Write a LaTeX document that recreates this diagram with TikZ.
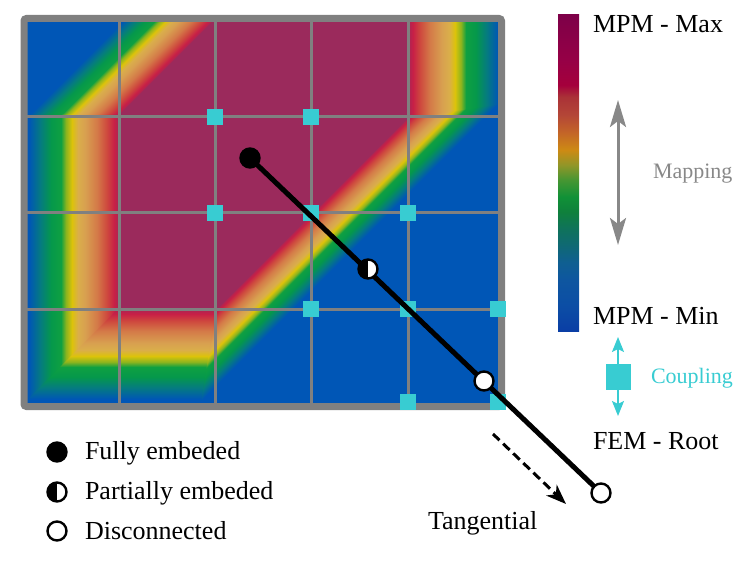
\documentclass[tikz,border=0pt]{standalone}
\usepackage{fontspec}
\setmainfont{Liberation Serif}
\usetikzlibrary{arrows.meta}

% field colour map (distance from the maroon zone, in bp)
\definecolor{cA}{RGB}{155,42,92}
\definecolor{cB}{RGB}{178,36,80}
\definecolor{cC}{RGB}{200,32,70}
\definecolor{cD}{RGB}{206,72,62}
\definecolor{cE}{RGB}{212,122,72}
\definecolor{cF}{RGB}{216,160,80}
\definecolor{cG}{RGB}{218,174,74}
\definecolor{cH}{RGB}{220,195,10}
\definecolor{cI}{RGB}{140,180,30}
\definecolor{cJ}{RGB}{15,160,65}
\definecolor{cK}{RGB}{5,152,75}
\definecolor{cL}{RGB}{5,125,125}
\definecolor{cM}{RGB}{0,86,182}
\pgfdeclarehorizontalshading{fieldmap}{800bp}{color(0bp)=(cA); color(1.5bp)=(cB); color(5bp)=(cC); color(12bp)=(cD); color(22bp)=(cE); color(34bp)=(cF); color(41bp)=(cG); color(47bp)=(cH); color(53bp)=(cI); color(58bp)=(cJ); color(68bp)=(cK); color(78bp)=(cL); color(90bp)=(cM); color(600bp)=(cM)}

% colour bar
\definecolor{b00}{RGB}{10,62,165}
\definecolor{b01}{RGB}{12,78,165}
\definecolor{b02}{RGB}{14,86,160}
\definecolor{b03}{RGB}{15,95,145}
\definecolor{b04}{RGB}{15,105,115}
\definecolor{b05}{RGB}{15,115,90}
\definecolor{b06}{RGB}{15,128,60}
\definecolor{b07}{RGB}{16,145,55}
\definecolor{b08}{RGB}{70,150,50}
\definecolor{b09}{RGB}{145,150,40}
\definecolor{b10}{RGB}{205,138,20}
\definecolor{b11}{RGB}{195,100,40}
\definecolor{b12}{RGB}{180,70,55}
\definecolor{b13}{RGB}{170,50,55}
\definecolor{b14}{RGB}{165,0,60}
\definecolor{b15}{RGB}{150,0,70}
\definecolor{b16}{RGB}{125,0,72}
\pgfdeclareverticalshading{barmap}{21bp}{color(0bp)=(b00); color(26bp)=(b01); color(51bp)=(b02); color(69bp)=(b03); color(86bp)=(b04); color(103bp)=(b05); color(119bp)=(b06); color(134bp)=(b07); color(151bp)=(b08); color(166bp)=(b09); color(181bp)=(b10); color(199bp)=(b11); color(216bp)=(b12); color(234bp)=(b13); color(246bp)=(b14); color(271bp)=(b15); color(317bp)=(b16)}

\definecolor{gridG}{RGB}{128,128,128}
\definecolor{cyanC}{RGB}{56,204,210}
\definecolor{arrG}{RGB}{136,136,136}

\begin{document}
\begin{tikzpicture}[x=1bp,y=-1bp,
  shadebox/.style={inner sep=0, outer sep=0, anchor=west},
  gridline/.style={draw=gridG, line width=3bp},
  framebox/.style={draw=gridG, line width=7bp, rounded corners=2.5bp},
  cpl/.style={fill=cyanC, draw=none, minimum size=16bp, inner sep=0, outer sep=0},
  fullc/.style={circle, fill=black, draw=black, line width=2.4bp, minimum size=19bp, inner sep=0},
  discc/.style={circle, fill=white, draw=black, line width=2.4bp, minimum size=19bp, inner sep=0},
  partc/.style={discc, path picture={\fill[black] (path picture bounding box.south west) rectangle (path picture bounding box.north);}},
  rod/.style={line width=5bp, draw=black},
  lbl/.style={anchor=base west, inner sep=0, outer sep=0, font=\fontsize{26bp}{30bp}\selectfont},
  sublbl/.style={anchor=base west, inner sep=0, outer sep=0, font=\fontsize{22bp}{26bp}\selectfont},
  maparrow/.style={draw=arrG, line width=3bp, {Stealth[length=27bp,width=16bp,inset=6bp]}-{Stealth[length=27bp,width=16bp,inset=6bp]}},
  cplarrow/.style={draw=cyanC, line width=2bp, -{Stealth[length=15bp,width=12bp,inset=3bp]}},
  tanarrow/.style={draw=black, line width=3bp, dash pattern=on 9bp off 5bp, -{Stealth[length=20bp,width=15bp,inset=6bp]}}
]
\useasboundingbox (0,0) rectangle (742,561);

% ---- colour field ----
\fill[cA] (24,18.5) rectangle (501.5,406.5);
\begin{scope}
  \clip (22,17) -- (240,17) -- (130,116) -- (22,116) -- cycle;
  \node[shadebox, rotate=135, xscale=0.7071] (sTL) at (167,67) {\pgfuseshading{fieldmap}};
\end{scope}
\begin{scope}
  \clip (22,114.5) -- (130,114.5) -- (130,299) -- (22,407) -- cycle;
  \node[shadebox, rotate=180] (sL) at (119,212) {\pgfuseshading{fieldmap}};
\end{scope}
\begin{scope}
  \clip (22,405) -- (128,299) -- (218,299) -- (202.5,408) -- (22,408) -- cycle;
  \node[shadebox, rotate=-90] (sB) at (168,309) {\pgfuseshading{fieldmap}};
\end{scope}
\begin{scope}
  \clip (200,408) -- (218.5,295) -- (395,119.5) -- (503,102.5) -- (503,408) -- cycle;
  \node[shadebox, rotate=-45, xscale=0.601] (sBR) at (312,213) {\pgfuseshading{fieldmap}};
\end{scope}
\begin{scope}
  \clip (400,17) -- (503,17) -- (503,104) -- (400,119) -- cycle;
  \node[shadebox] (sR) at (408,68) {\pgfuseshading{fieldmap}};
\end{scope}

% ---- grid ----
\foreach \gx in {119,215,311,408} \draw[gridline] (\gx,18.5) -- (\gx,406.5);
\foreach \gy in {117,213,309} \draw[gridline] (24,\gy) -- (501.5,\gy);
\draw[framebox] (24,18.5) rectangle (501.5,406.5);

% ---- coupling nodes ----
\node[cpl] (q1) at (215,117) {};
\node[cpl] (q2) at (311,117) {};
\node[cpl] (q3) at (215,213) {};
\node[cpl] (q4) at (311,213) {};
\node[cpl] (q5) at (408,213) {};
\node[cpl] (q6) at (311,309) {};
\node[cpl] (q7) at (408,309) {};
\node[cpl] (q8) at (498,309) {};
\node[cpl] (q9) at (408,402) {};
\node[cpl] (q10) at (498,402) {};

% ---- root (FEM) ----
\coordinate (r1) at (250,158);
\coordinate (r2) at (368,269);
\coordinate (r3) at (484,381);
\coordinate (r4) at (601,493);
\draw[rod] (r1) -- (r4);
\node[fullc] (n1) at (r1) {};
\node[partc] (n2) at (r2) {};
\node[discc] (n3) at (r3) {};
\node[discc] (n4) at (r4) {};

% tangential arrow
\coordinate (ta) at (493,434);
\coordinate (tb) at (566,504);
\draw[tanarrow] (ta) -- (tb);
\node[lbl] (ttan) at (428,529) {Tangential};

% ---- legend ----
\node[fullc] (lg1) at (57,452) {};
\node[partc] (lg2) at (57,492) {};
\node[discc] (lg3) at (57,531) {};
\node[lbl] (lt1) at (85,459) {Fully embeded};
\node[lbl] (lt2) at (85,499) {Partially embeded};
\node[lbl] (lt3) at (85,539) {Disconnected};

% ---- colour bar ----
\node[inner sep=0, outer sep=0, anchor=north west] (cbar) at (558,14) {\pgfuseshading{barmap}};
\node[lbl] (tmax) at (593,33) {MPM - Max};
\node[lbl] (tmin) at (593,324) {MPM - Min};
\node[lbl] (troot) at (593,449) {FEM - Root};

% mapping arrow
\coordinate (mt) at (618,100);
\coordinate (mb) at (618,245);
\draw[maparrow] (mt) -- (mb);
\node[sublbl, text=arrG] (tmap) at (653,179) {Mapping};

% coupling
\node[cpl, minimum width=25bp, minimum height=26bp] (cq) at (618,377) {};
\coordinate (ct) at (618,337);
\coordinate (cb) at (618,416);
\draw[cplarrow] (cq.north) -- (ct);
\draw[cplarrow] (cq.south) -- (cb);
\node[sublbl, text=cyanC] (tcpl) at (651,383) {Coupling};
\end{tikzpicture}
\end{document}
